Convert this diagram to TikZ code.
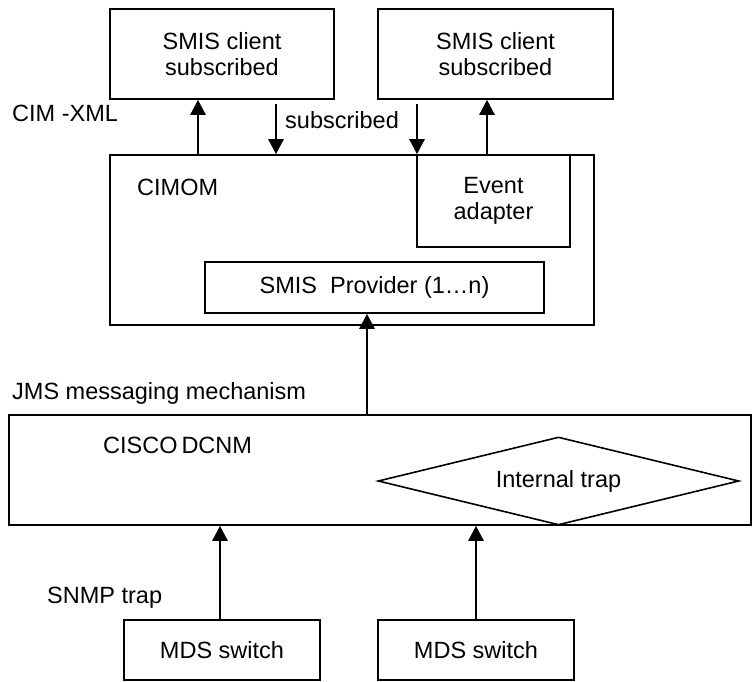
\documentclass[tikz,border=0pt]{standalone}
\usepackage{fontspec}
\setmainfont{Liberation Sans}
\usetikzlibrary{arrows.meta,shapes.geometric}
\begin{document}
\begin{tikzpicture}[x=1pt,y=-1pt,
  box/.style={draw,line width=1.6pt,rectangle,inner sep=0pt,align=center,
    font=\fontsize{23.5}{26}\selectfont},
  lbl/.style={inner sep=0pt,anchor=west,font=\fontsize{23.5}{26}\selectfont},
  arr/.style={line width=2.5pt,-{Triangle[width=15pt,length=15pt]}}]
\useasboundingbox (0,0) rectangle (753,681);
% boxes
\node[box,minimum width=224pt,minimum height=90pt] (c1) at (222,54) {SMIS client\\subscribed};
\node[box,minimum width=235pt,minimum height=90pt] (c2) at (495.5,54) {SMIS client\\subscribed};
\node[box,minimum width=484pt,minimum height=170pt] (cimom) at (352,240) {};
\node[box,minimum width=153pt,minimum height=92pt] (ev) at (493.5,201) {Event\\adapter};
\node[box,minimum width=339pt,minimum height=51pt] (prov) at (374.5,287.5) {SMIS\ \ Provider (1…n)};
\node[box,minimum width=742pt,minimum height=110pt] (dcnm) at (380,470) {};
\node[box,shape=diamond,aspect=4.1,minimum width=361pt,minimum height=88pt] (trap) at (558.5,481) {Internal trap};
\node[box,minimum width=196pt,minimum height=60pt] (m1) at (222,650) {MDS switch};
\node[box,minimum width=196pt,minimum height=60pt] (m2) at (476,650) {MDS switch};
% labels
\node[lbl] (lcim) at (12,113) {CIM -XML};
\node[lbl] (lsub) at (285,120) {subscribed};
\node[lbl] (lcimom) at (137,187) {CIMOM};
\node[lbl] (ljms) at (12,393) {JMS messaging mechanism};
\node[lbl] (ldcnm) at (103,445) {CISCO\,DCNM};
\node[lbl] (lsnmp) at (47,598) {SNMP trap};
% connector helpers
\coordinate (a1) at (198,0);
\coordinate (s1) at (276,104);
\coordinate (s2) at (417,104);
\coordinate (a2) at (487,0);
\coordinate (a3) at (367,0);
\coordinate (a4) at (220,0);
\coordinate (a5) at (476,0);
% connectors
\draw[arr] (a1 |- cimom.north) -- (a1 |- c1.south);
\draw[arr] (s1) -- (s1 |- cimom.north);
\draw[arr] (s2) -- (s2 |- ev.north);
\draw[arr] (a2 |- ev.north) -- (a2 |- c2.south);
\draw[arr] (a3 |- dcnm.north) -- (a3 |- prov.south);
\draw[arr] (a4 |- m1.north) -- (a4 |- dcnm.south);
\draw[arr] (a5 |- m2.north) -- (a5 |- dcnm.south);
\end{tikzpicture}
\end{document}
